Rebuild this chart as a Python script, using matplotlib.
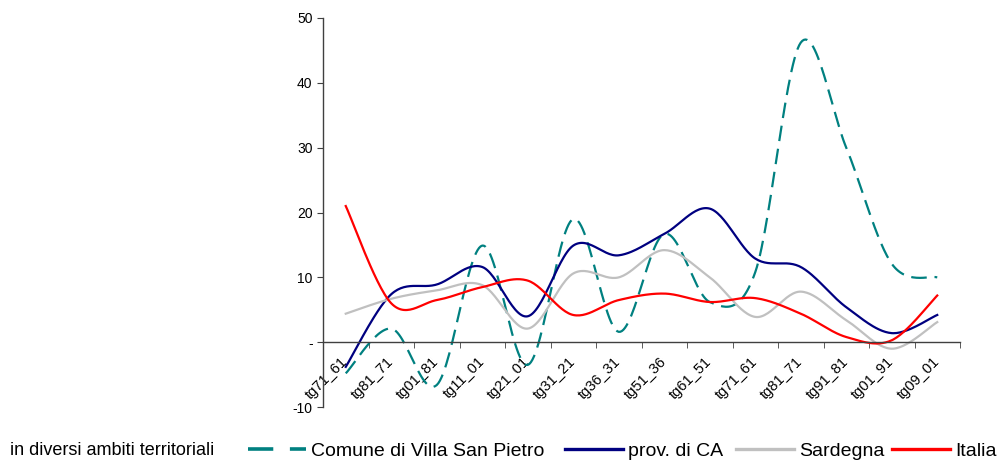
import numpy as np
import matplotlib
matplotlib.use("Agg")
import matplotlib.pyplot as plt
from matplotlib.lines import Line2D
from matplotlib.transforms import ScaledTranslation

# categorie (intervalli intercensuari)
periodi = ["tg71_61", "tg81_71", "tg01_81", "tg11_01", "tg21_01", "tg31_21", "tg36_31",
           "tg51_36", "tg61_51", "tg71_61", "tg81_71", "tg91_81", "tg01_91", "tg09_01"]

# valori
comune = [-4.8, 2.1, -6.6, 14.9, -3.5, 19.0, 1.6, 16.7, 6.2, 10.8, 46.2, 30.0, 12.1, 10.0]
prov_ca = [-3.8, 7.4, 8.9, 11.6, 4.0, 14.9, 13.4, 16.7, 20.6, 12.9, 11.6, 5.4, 1.4, 4.2]
sardegna = [4.4, 6.7, 8.0, 8.8, 2.1, 10.6, 10.0, 14.2, 10.0, 3.9, 7.8, 3.4, -1.0, 3.1]
italia = [21.0, 6.0, 6.5, 8.5, 9.5, 4.2, 6.5, 7.5, 6.2, 6.8, 4.4, 0.8, 0.3, 7.2]

nomi = ["Comune di Villa San Pietro", "prov. di CA", "Sardegna", "Italia"]
colori = ["#008080", "#000080", "#C0C0C0", "#FF0000"]


def smussa(y, n=30):
    # curva tipo Excel (Bezier cardinale)
    x = np.arange(len(y), dtype=float)
    y = np.asarray(y, dtype=float)
    px, py = [], []
    for i in range(len(y) - 1):
        i0, i3 = max(i - 1, 0), min(i + 2, len(y) - 1)
        p0 = np.array([x[i], y[i]])
        p3 = np.array([x[i + 1], y[i + 1]])
        c1 = p0 + (np.array([x[i + 1], y[i + 1]]) - np.array([x[i0], y[i0]])) / 6
        c2 = p3 - (np.array([x[i3], y[i3]]) - np.array([x[i], y[i]])) / 6
        t = np.linspace(0, 1, n)[:, None]
        pts = (1 - t) ** 3 * p0 + 3 * (1 - t) ** 2 * t * c1 + 3 * (1 - t) * t ** 2 * c2 + t ** 3 * p3
        px.extend(pts[:, 0])
        py.extend(pts[:, 1])
    return np.array(px), np.array(py)


plt.rcParams["font.family"] = ["Liberation Sans", "DejaVu Sans"]

fig = plt.figure(figsize=(10, 4.61), dpi=100)
ax = fig.add_axes([0.323, 0.117, 0.637, 0.844])

serie = [comune, prov_ca, sardegna, italia]
for vals, nome, col in zip(serie, nomi, colori):
    xs, ys = smussa(vals)
    if nome.startswith("Comune"):
        ax.plot(xs, ys, color=col, lw=1.6, dashes=(7, 3.5))
    else:
        ax.plot(xs, ys, color=col, lw=1.6)

ax.set_xlim(-0.5, len(periodi) - 0.5)
ax.set_ylim(-10, 50)
ax.set_yticks([-10, 0, 10, 20, 30, 40, 50])
ax.set_yticklabels(["-10", "-", "10", "20", "30", "40", "50"], fontsize=10)

ax.spines["top"].set_visible(False)
ax.spines["right"].set_visible(False)
ax.spines["bottom"].set_position(("data", 0))
for s in ["left", "bottom"]:
    ax.spines[s].set_color("#404040")
    ax.spines[s].set_linewidth(1)

ax.set_xticks(np.arange(len(periodi)))
ax.set_xticklabels(periodi, rotation=45, ha="right", rotation_mode="anchor", fontsize=10.5)
ax.set_xticks(np.arange(-0.5, len(periodi)), minor=True)
ax.tick_params(axis="x", which="major", length=0, pad=9)
ax.tick_params(axis="x", which="minor", length=4, color="#404040", direction="out")
ax.tick_params(axis="y", length=4, color="#404040", direction="out")

# etichette un po' a sinistra
sposta = ScaledTranslation(-5 / 100, 0, fig.dpi_scale_trans)
for lab in ax.get_xticklabels():
    lab.set_transform(lab.get_transform() + sposta)

fig.text(0.01, 0.022, "in diversi ambiti territoriali", fontsize=13, va="center")

# legenda: una voce alla volta, come nell'originale
pos_leg = [0.248, 0.565, 0.736, 0.892]
for nome, col, x0 in zip(nomi, colori, pos_leg):
    if nome.startswith("Comune"):
        h = Line2D([], [], color=col, lw=2.6, dashes=(7, 4.6))
    else:
        h = Line2D([], [], color=col, lw=2.4)
    fig.legend(handles=[h], labels=[nome], loc="center left", bbox_to_anchor=(x0, 0.022),
               frameon=False, borderpad=0, borderaxespad=0, handlelength=3.0,
               handletextpad=0.25, fontsize=14)

fig.savefig("out.png", dpi=100)
